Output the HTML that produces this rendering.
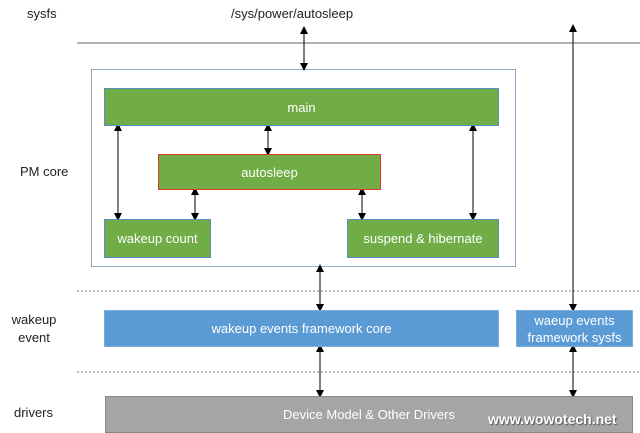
<!DOCTYPE html><html><head><style>
body{margin:0;width:640px;height:433px;background:#fff;overflow:hidden;font-family:"Liberation Sans",sans-serif}
.t{position:absolute;font-size:13px;color:#222}
.b{position:absolute;box-sizing:border-box;color:#fff;font-size:13px;display:flex;align-items:center;justify-content:center;text-align:center;line-height:17px}
.g{background:#70ad47;border:1px solid #5b8fbf}
.bl{background:#5b9bd5;border:1px solid #7aaee0}
</style></head><body>
<svg width="640" height="433" style="position:absolute;left:0;top:0">
<defs><marker id="a" markerWidth="8" markerHeight="8" refX="4" refY="4" orient="auto-start-reverse" markerUnits="userSpaceOnUse"><path d="M0,0L8,4L0,8z" fill="#000"/></marker></defs>
<line x1="77" y1="43" x2="640" y2="43" stroke="#666" stroke-width="1"/>
<line x1="77" y1="291" x2="640" y2="291" stroke="#777" stroke-dasharray="2,2"/>
<line x1="77" y1="372" x2="640" y2="372" stroke="#777" stroke-dasharray="2,2"/>
<rect x="91.5" y="69.5" width="424" height="197" fill="none" stroke="#8fa9c8"/>
<g stroke="#000" stroke-width="1" marker-start="url(#a)" marker-end="url(#a)">
<line x1="304" y1="30" x2="304" y2="67"/>
<line x1="118" y1="127" x2="118" y2="217"/>
<line x1="268" y1="127" x2="268" y2="152"/>
<line x1="473" y1="127" x2="473" y2="217"/>
<line x1="195" y1="191" x2="195" y2="217"/>
<line x1="362" y1="191" x2="362" y2="217"/>
<line x1="320" y1="268" x2="320" y2="308"/>
<line x1="320" y1="348" x2="320" y2="394"/>
<line x1="573" y1="28" x2="573" y2="308"/>
<line x1="573" y1="348" x2="573" y2="394"/>
</g></svg>
<div class="t" style="left:27px;top:6px">sysfs</div>
<div class="t" style="left:231px;top:6px">/sys/power/autosleep</div>
<div class="t" style="left:20px;top:164px">PM core</div>
<div class="t" style="left:8px;top:311px;text-align:center;width:52px;line-height:18px">wakeup<br>event</div>
<div class="t" style="left:14px;top:405px">drivers</div>
<div class="b g" style="left:104px;top:88px;width:395px;height:38px">main</div>
<div class="b g" style="left:158px;top:154px;width:223px;height:36px;border-color:#e03a2a">autosleep</div>
<div class="b g" style="left:104px;top:219px;width:107px;height:39px">wakeup count</div>
<div class="b g" style="left:347px;top:219px;width:152px;height:39px">suspend &amp; hibernate</div>
<div class="b bl" style="left:104px;top:310px;width:395px;height:37px">wakeup events framework core</div>
<div class="b bl" style="left:516px;top:310px;width:117px;height:37px">waeup events<br>framework sysfs</div>
<div class="b" style="left:105px;top:396px;width:528px;height:37px;background:#a5a5a5;border:1px solid #888">Device Model &amp; Other Drivers</div>
<div class="t" style="left:488px;top:411px;font-weight:bold;color:#fff;text-shadow:1px 1px 1px #555;font-size:14px">www.wowotech.net</div>
</body></html>
